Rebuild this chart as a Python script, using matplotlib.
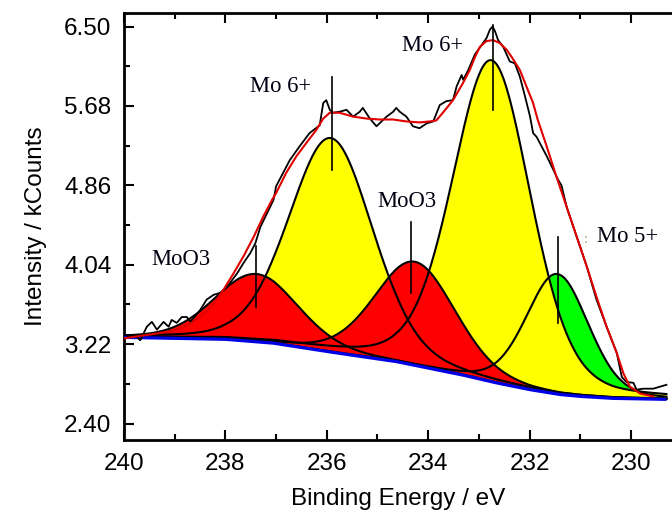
import numpy as np
import matplotlib
matplotlib.use("Agg")
import matplotlib.pyplot as plt
from matplotlib.ticker import MultipleLocator, FixedLocator

# ---------------- data ----------------
# raw spectrum (binding energy eV, intensity kCounts)
raw_ev = [240.00, 239.88, 239.78, 239.68, 239.55, 239.45, 239.35, 239.22, 239.12, 239.06,
          238.96, 238.86, 238.76, 238.69, 238.50, 238.37, 238.23, 238.10, 237.97, 237.77,
          237.64, 237.51, 237.41, 237.31, 237.18, 237.05, 237.00, 236.86, 236.73, 236.54,
          236.34, 236.14, 236.07, 236.01, 235.94, 235.88, 235.75, 235.61, 235.48, 235.35,
          235.29, 235.15, 235.02, 234.96, 234.82, 234.69, 234.63, 234.56, 234.43, 234.30,
          234.17, 234.03, 233.90, 233.77, 233.64, 233.51, 233.44, 233.34, 233.31, 233.21,
          233.08, 232.85, 232.78, 232.73, 232.68, 232.62, 232.52, 232.45, 232.39, 232.29,
          232.19, 232.09, 231.99, 231.93, 231.86, 231.66, 231.53, 231.44, 231.37, 231.27,
          231.07, 230.87, 230.68, 230.48, 230.28, 230.18, 230.09, 229.95, 229.89, 229.76,
          229.56, 229.43, 229.30]
raw_val = [3.28, 3.30, 3.315, 3.26, 3.40, 3.45, 3.37, 3.45, 3.40, 3.47,
           3.44, 3.50, 3.50, 3.45, 3.57, 3.68, 3.73, 3.75, 3.81, 3.95,
           4.06, 4.16, 4.26, 4.43, 4.57, 4.71, 4.85, 4.99, 5.12, 5.26,
           5.40, 5.48, 5.71, 5.74, 5.64, 5.61, 5.62, 5.64, 5.57, 5.62,
           5.66, 5.55, 5.47, 5.50, 5.57, 5.62, 5.66, 5.62, 5.57, 5.47,
           5.45, 5.50, 5.52, 5.69, 5.73, 5.74, 5.88, 6.00, 5.95, 6.05,
           6.21, 6.38, 6.47, 6.50, 6.45, 6.36, 6.29, 6.21, 6.14, 6.12,
           5.98, 5.78, 5.57, 5.40, 5.36, 5.16, 5.02, 4.92, 4.86, 4.64,
           4.33, 4.02, 3.68, 3.40, 3.13, 2.88, 2.83, 2.82, 2.75, 2.76,
           2.76, 2.78, 2.80]

# fitted envelope (red)
env_ev = [240.00, 239.35, 239.02, 238.69, 238.43, 238.23, 238.04, 237.84, 237.64, 237.44,
          237.25, 237.08, 237.00, 236.80, 236.60, 236.40, 236.21, 236.07, 235.94, 235.75,
          235.48, 235.22, 234.96, 234.69, 234.43, 234.17, 233.97, 233.84, 233.71, 233.51,
          233.31, 233.18, 233.08, 232.98, 232.85, 232.72, 232.59, 232.45, 232.32, 232.19,
          232.06, 231.93, 231.84, 231.66, 231.47, 231.27, 231.07, 230.87, 230.68, 230.48,
          230.28, 230.15, 230.02, 229.82, 229.56]
env_val = [3.28, 3.33, 3.36, 3.43, 3.53, 3.64, 3.78, 3.95, 4.13, 4.33,
           4.54, 4.71, 4.78, 4.99, 5.16, 5.30, 5.43, 5.55, 5.61, 5.61,
           5.57, 5.55, 5.54, 5.54, 5.52, 5.51, 5.52, 5.53, 5.61, 5.74,
           5.92, 6.05, 6.18, 6.29, 6.35, 6.36, 6.33, 6.26, 6.16, 6.05,
           5.88, 5.71, 5.54, 5.26, 4.95, 4.64, 4.33, 4.02, 3.71, 3.40,
           3.13, 2.92, 2.78, 2.71, 2.68]

# background (blue)
bg_ev = [240.0, 239.0, 238.0, 237.05, 235.94, 235.29, 234.63, 233.97, 233.31, 232.65,
         231.99, 231.40, 230.99, 230.35, 229.30]
bg_val = [3.29, 3.28, 3.27, 3.23, 3.14, 3.09, 3.04, 2.97, 2.90, 2.82,
          2.75, 2.70, 2.68, 2.66, 2.65]

# fitted components: centre (eV), height above background, FWHM (eV), Lorentz fraction
comp_names = ["MoO3", "Mo 6+", "MoO3", "Mo 6+", "Mo 5+"]
comp_center = [237.39, 235.92, 234.26, 232.75, 231.45]
comp_height = [0.70, 2.21, 1.07, 3.32, 1.24]
comp_fwhm = [1.94, 1.95, 1.88, 1.83, 1.45]
comp_mix = [0.2, 0.2, 0.2, 0.25, 0.2]
comp_color = ["#ff0000", "#ffff00", "#ff0000", "#ffff00", "#00ff00"]
fill_order = [4, 1, 3, 0, 2]

# peak marker lines
marker_ev = [237.39, 235.89, 234.33, 232.73, 231.44]
marker_top = [4.23, 5.98, 4.48, 6.52, 4.33]
marker_bottom = [3.60, 5.02, 3.75, 5.64, 3.44]

# labels
label_text = ["MoO3", "Mo 6+", "MoO3", "Mo 6+", "Mo 5+"]
label_ev = [238.88, 236.91, 234.42, 233.91, 230.06]
label_val = [4.09, 5.88, 4.69, 6.30, 4.33]

x_ticks = [240, 238, 236, 234, 232, 230]
y_ticks = [2.40, 3.22, 4.04, 4.86, 5.68, 6.50]

# ---------------- figure ----------------
W, H = 672, 517
fig = plt.figure(figsize=(W / 100, H / 100), dpi=100)
ax = fig.add_axes([124 / W, 77 / H, 1 - 124 / W, 427 / H])

grid = np.linspace(240.0, 229.3, 800)
bg_fine = np.interp(grid, bg_ev[::-1], bg_val[::-1])


def pvoigt(x, c, h, w, m):
    t = 4.0 * (x - c) ** 2 / w ** 2
    return h * ((1 - m) * np.exp(-np.log(2) * t) + m / (1 + t))


curves = [pvoigt(grid, c, h, w, m)
          for c, h, w, m in zip(comp_center, comp_height, comp_fwhm, comp_mix)]

for i in fill_order:
    ax.fill_between(grid, bg_fine, bg_fine + curves[i], color=comp_color[i], lw=0, zorder=1)
for i in range(len(curves)):
    ax.plot(grid, bg_fine + curves[i], color="black", lw=1.5, zorder=2)

ax.plot(bg_ev, bg_val, color="#0000e6", lw=2.3, zorder=3, solid_capstyle="butt")
ax.plot(raw_ev, raw_val, color="black", lw=1.3, zorder=4)
ax.plot(env_ev, env_val, color="#e00000", lw=1.5, zorder=5)

for xe, yt, yb in zip(marker_ev, marker_top, marker_bottom):
    ax.plot([xe, xe], [yb, yt], color="black", lw=1.2, zorder=6)

for t, xe, yv in zip(label_text, label_ev, label_val):
    ax.text(xe, yv, t, family="Liberation Serif", fontsize=16.3, color="#000010",
            ha="center", va="center", zorder=7)
ax.text(230.89, 4.30, ":", family="Liberation Serif", fontsize=10, color="#b08a60",
        ha="center", va="center", zorder=7)

ax.set_xlim(240, 229.19)
ax.set_ylim(2.23, 6.64)
ax.xaxis.set_major_locator(FixedLocator(x_ticks))
ax.xaxis.set_minor_locator(MultipleLocator(1))
ax.yaxis.set_major_locator(FixedLocator(y_ticks))
ax.yaxis.set_minor_locator(FixedLocator([2.81, 3.63, 4.45, 5.27, 6.09]))
ax.set_xticklabels([str(v) for v in x_ticks])
ax.set_yticklabels(["%.2f" % v for v in y_ticks])

ax.tick_params(which="both", direction="in", top=True, right=False, width=1.5)
ax.tick_params(which="major", length=7)
ax.tick_params(which="minor", length=4)
ax.tick_params(axis="x", pad=9)
ax.tick_params(axis="y", pad=9)
for lab in ax.get_xticklabels() + ax.get_yticklabels():
    lab.set_family("Liberation Sans")
    lab.set_fontsize(17.5)

for s in ["left", "bottom", "top"]:
    ax.spines[s].set_linewidth(2)
ax.spines["right"].set_visible(False)

ax.set_xlabel("Binding Energy / eV", family="Liberation Sans", fontsize=17.5, labelpad=10)
ax.set_ylabel("Intensity / kCounts", family="Liberation Sans", fontsize=17.5, labelpad=12)

fig.savefig("out.png", dpi=100)
